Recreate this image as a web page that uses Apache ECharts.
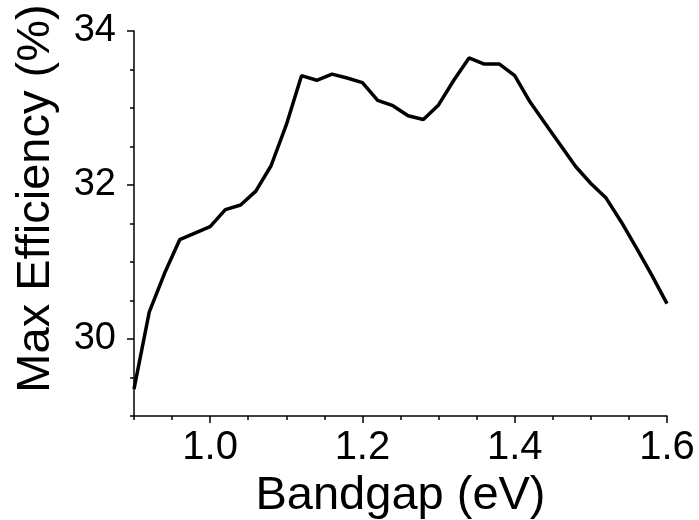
<!DOCTYPE html>
<html>
<head>
<meta charset="utf-8">
<script src="https://cdn.jsdelivr.net/npm/echarts@6/dist/echarts.min.js"></script>
<style>
  html, body { margin: 0; padding: 0; background: #fff; }
  #chart { width: 699px; height: 520px; }
</style>
</head>
<body>
<div id="chart"></div>
<script>
'use strict';
// bandgap (eV) vs max efficiency (%)
const bandgap = [0.90, 0.92, 0.94, 0.96, 1.00, 1.02, 1.04, 1.06, 1.08, 1.10, 1.12, 1.14, 1.16, 1.18,
  1.20, 1.22, 1.24, 1.26, 1.28, 1.30, 1.32, 1.34, 1.36, 1.38, 1.40, 1.42, 1.44, 1.46,
  1.48, 1.50, 1.52, 1.54, 1.56, 1.58, 1.60];
const efficiency = [29.35, 30.35, 30.85, 31.29, 31.46, 31.68, 31.74, 31.92, 32.25, 32.78, 33.42, 33.36, 33.44, 33.39,
  33.33, 33.10, 33.03, 32.90, 32.85, 33.04, 33.36, 33.65, 33.57, 33.57, 33.42, 33.08, 32.80, 32.52,
  32.24, 32.02, 31.83, 31.52, 31.18, 30.83, 30.46];
const xMajor = [1.0, 1.2, 1.4, 1.6];
const yMajor = [30, 32, 34];

const font = 'Liberation Sans, Arial, sans-serif';
const chart = echarts.init(document.getElementById('chart'));

const axisLine = {show: true, lineStyle: {color: '#000', width: 1.5}};

chart.setOption({
  animation: false,
  grid: {left: 134, right: 32, top: 31, bottom: 104, outerBoundsMode: 'none', containLabel: false},
  xAxis: [{
    type: 'value', min: 0.9, max: 1.6, interval: 0.05,
    name: 'Bandgap (eV)', nameLocation: 'middle', nameGap: 53,
    nameTextStyle: {fontFamily: font, fontSize: 47, color: '#000'},
    axisLine: axisLine,
    axisTick: {show: true, length: 4, lineStyle: {color: '#000', width: 1.5}},
    axisLabel: {
      margin: 12, fontFamily: font, fontSize: 40, color: '#000',
      formatter: (v) => (Math.round(v * 100) % 20 === 0 ? v.toFixed(1) : '')
    },
    splitLine: {show: false}
  }, {
    type: 'value', min: 0.9, max: 1.6, position: 'bottom',
    axisLine: {show: false},
    axisTick: {show: true, length: 7, customValues: xMajor, lineStyle: {color: '#000', width: 1.5}},
    axisLabel: {show: false},
    splitLine: {show: false}
  }],
  yAxis: [{
    type: 'value', min: 29, max: 34, interval: 0.5,
    name: 'Max Efficiency (%)', nameLocation: 'middle', nameGap: 74,
    nameTextStyle: {fontFamily: font, fontSize: 47, color: '#000', padding: [0, 0, 0, 50]},
    axisLine: axisLine,
    axisTick: {show: true, length: 4, lineStyle: {color: '#000', width: 1.5}},
    axisLabel: {
      margin: 18, fontFamily: font, fontSize: 38, color: '#000',
      formatter: (v) => (Math.round(v * 10) % 20 === 0 ? String(Math.round(v)) : '')
    },
    splitLine: {show: false}
  }, {
    type: 'value', min: 29, max: 34, position: 'left',
    axisLine: {show: false},
    axisTick: {show: true, length: 7, customValues: yMajor, lineStyle: {color: '#000', width: 1.5}},
    axisLabel: {show: false},
    splitLine: {show: false}
  }],
  series: [{
    type: 'line',
    data: bandgap.map((x, i) => [x, efficiency[i]]),
    showSymbol: false,
    lineStyle: {color: '#000', width: 3.5},
    itemStyle: {color: '#000'}
  }]
});
</script>
</body>
</html>
